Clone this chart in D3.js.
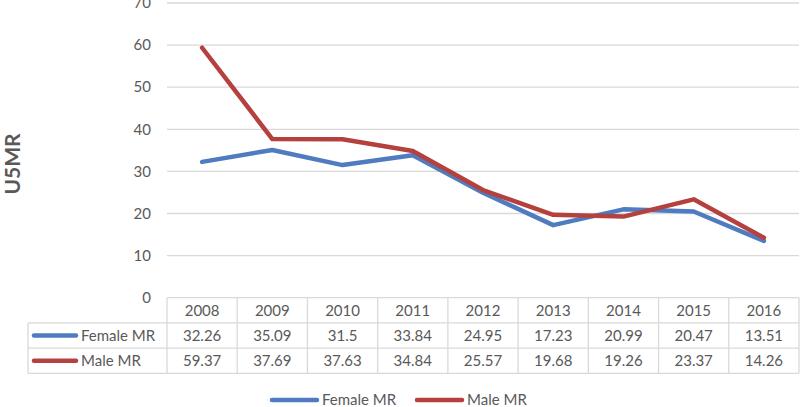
<!DOCTYPE html>
<html><head><meta charset="utf-8">
<script src="https://cdn.jsdelivr.net/npm/d3@7"></script>
<style>body{margin:0;background:#fff;}svg{display:block;font-family:Lato,"Open Sans",sans-serif;}</style>
</head><body><svg id="c" width="800" height="407"></svg>
<script>
const years = ["2008","2009","2010","2011","2012","2013","2014","2015","2016"];
const femaleMR = [32.26,35.09,31.5,33.84,24.95,17.23,20.99,20.47,13.51];
const maleMR = [59.37,37.69,37.63,34.84,25.57,19.68,19.26,23.37,14.26];
const yTicks = [0,10,20,30,40,50,60,70];
const seriesNames = ["Female MR","Male MR"];
const seriesLabels = ["32.26","35.09","31.5","33.84","24.95","17.23","20.99","20.47","13.51"];
const maleLabels = ["59.37","37.69","37.63","34.84","25.57","19.68","19.26","23.37","14.26"];
const colors = ["#4F7BC0","#B5413F"];

const svg = d3.select("#c");
const textCol = "#595959", gridCol = "#D9D9D9";
const x = d3.scaleBand().domain(years).range([167, 799]).padding(0);
const y = d3.scaleLinear().domain([0,70]).range([297.7, 3]);
const cx = d => x(d) + x.bandwidth()/2;

// gridlines
svg.append("g").selectAll("line").data(yTicks.filter(t=>t>0)).join("line")
  .attr("x1",167).attr("x2",799).attr("y1",d=>y(d)).attr("y2",d=>y(d))
  .attr("stroke",gridCol).attr("stroke-width",1.3);

// y tick labels
svg.append("g").selectAll("text").data(yTicks).join("text")
  .attr("x",151).attr("y",d=>y(d)).attr("dy","0.35em").attr("text-anchor","end")
  .attr("font-size",15).attr("fill",textCol).text(d=>d);

// y title
svg.append("text").attr("transform","translate(20,164) rotate(-90)")
  .attr("text-anchor","middle").attr("font-size",21).attr("font-weight","bold")
  .attr("fill",textCol).text("U5MR");

// data table
const tTop = y(0), rowH = 25.2, tLeft = 28, right = 799;
const tg = svg.append("g").attr("stroke",gridCol).attr("stroke-width",1.3);
tg.append("line").attr("x1",167).attr("x2",right).attr("y1",tTop).attr("y2",tTop);
[1,2,3].forEach(i=>tg.append("line").attr("x1",tLeft).attr("x2",right).attr("y1",tTop+i*rowH).attr("y2",tTop+i*rowH));
tg.append("line").attr("x1",tLeft).attr("x2",tLeft).attr("y1",tTop+rowH).attr("y2",tTop+3*rowH);
years.forEach(yr=>tg.append("line").attr("x1",x(yr)).attr("x2",x(yr)).attr("y1",tTop).attr("y2",tTop+3*rowH));
tg.append("line").attr("x1",right).attr("x2",right).attr("y1",tTop).attr("y2",tTop+3*rowH);

const tt = svg.append("g").attr("font-size",15).attr("fill",textCol).attr("text-anchor","middle");
tt.selectAll(".h").data(years).join("text").attr("x",d=>cx(d)).attr("y",tTop+rowH/2).attr("dy","0.35em").text(d=>d);
tt.selectAll(".f").data(years).join("text").attr("x",d=>cx(d)).attr("y",tTop+rowH*1.5).attr("dy","0.35em").text((d,i)=>seriesLabels[i]);
tt.selectAll(".m").data(years).join("text").attr("x",d=>cx(d)).attr("y",tTop+rowH*2.5).attr("dy","0.35em").text((d,i)=>maleLabels[i]);

// table legend keys
seriesNames.forEach((n,i)=>{
  const yy = tTop + rowH*(1.5+i);
  svg.append("line").attr("x1",34).attr("x2",76).attr("y1",yy).attr("y2",yy)
    .attr("stroke",colors[i]).attr("stroke-width",4.5).attr("stroke-linecap","round");
  svg.append("text").attr("x",81).attr("y",yy).attr("dy","0.35em").attr("font-size",15).attr("fill",textCol).text(n);
});

// lines
const line = d3.line().x((d,i)=>cx(years[i])).y(d=>y(d));
[femaleMR, maleMR].forEach((s,i)=>{
  svg.append("path").datum(s).attr("d",line).attr("fill","none")
    .attr("stroke",colors[i]).attr("stroke-width",4.5).attr("stroke-linejoin","round").attr("stroke-linecap","round");
});

// bottom legend
const lg = [{x1:272,x2:317,tx:322},{x1:417,x2:462,tx:467}];
seriesNames.forEach((n,i)=>{
  svg.append("line").attr("x1",lg[i].x1).attr("x2",lg[i].x2).attr("y1",400).attr("y2",400)
    .attr("stroke",colors[i]).attr("stroke-width",4.5).attr("stroke-linecap","round");
  svg.append("text").attr("x",lg[i].tx).attr("y",400).attr("dy","0.35em").attr("font-size",15).attr("fill",textCol).text(n);
});
</script></body></html>
